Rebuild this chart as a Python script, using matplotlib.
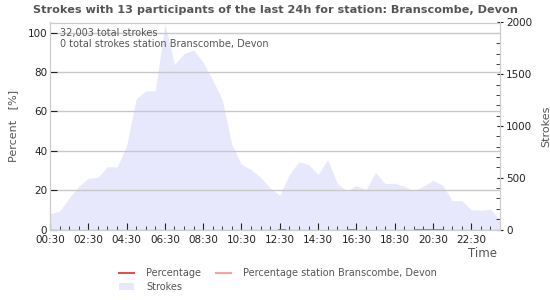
import matplotlib

matplotlib.use("Agg")
import matplotlib.pyplot as plt  # noqa: E402
from matplotlib.lines import Line2D  # noqa: E402
from matplotlib.patches import Patch  # noqa: E402
from matplotlib.ticker import MultipleLocator  # noqa: E402

# half-hour bins, hours since midnight
hours = [0.5 + 0.5 * i for i in range(48)]
strokes = [152, 176, 304, 418, 494, 504, 608, 603, 808, 1264, 1340, 1340,
           1985, 1596, 1700, 1734, 1615, 1444, 1254, 817, 627, 580, 504, 399,
           333, 532, 656, 627, 532, 675, 447, 371, 423, 385, 551, 442,
           447, 418, 371, 418, 475, 428, 280, 280, 190, 186, 195, 95]

# percentage segments (all zero), start/end hours
pct_segments = [(12.4, 12.85), (16.0, 16.5), (19.5, 21.0)]
pct_value = 0

tick_labels = ["00:30", "02:30", "04:30", "06:30", "08:30", "10:30",
               "12:30", "14:30", "16:30", "18:30", "20:30", "22:30"]
tick_hours = [0.5 + 2 * i for i in range(12)]

title = "Strokes with 13 participants of the last 24h for station: Branscombe, Devon"
info = "32,003 total strokes\n0 total strokes station Branscombe, Devon"

FILL = "#e8e8fc"
RED = "#e05050"
PINK = "#ffa0a0"
GRID = "#c8c8c8"
TXT = "#555555"

fig = plt.figure(figsize=(5.5, 3.0), dpi=100)
ax = fig.add_axes([50 / 550, 1 - 229.5 / 300, 450 / 550, (229.5 - 22.5) / 300])
ax2 = ax.twinx()
ax.set_zorder(ax2.get_zorder() + 1)
ax.patch.set_visible(False)

ax2.fill_between(hours, strokes, 0, color=FILL, linewidth=0)
ax2.set_ylim(0, 2000)
ax2.yaxis.set_major_locator(MultipleLocator(500))
ax2.yaxis.set_minor_locator(MultipleLocator(100))
ax2.tick_params(axis="y", which="major", direction="inout", length=5, labelsize=7.5,
                colors="#222222", pad=2)
ax2.tick_params(axis="y", which="minor", direction="in", length=3, color="#222222")
ax2.set_ylabel("Strokes", color=TXT, fontsize=8, labelpad=6)

ax.set_xlim(0.5, 24.0)
ax.set_ylim(0, 105.2)
ax.set_yticks([0, 20, 40, 60, 80, 100])
ax.yaxis.grid(True, color=GRID, linewidth=1)
ax.set_axisbelow(True)
ax.set_xticks(tick_hours)
ax.set_xticklabels(tick_labels)
ax.xaxis.set_minor_locator(MultipleLocator(0.5))
ax.tick_params(axis="x", which="major", direction="in", length=5, labelsize=7.5,
               colors="#222222", pad=4)
ax.tick_params(axis="x", which="minor", direction="in", length=3, color="#222222")
ax.tick_params(axis="y", direction="in", length=5, labelsize=7.5, colors="#222222", pad=2)
ax.set_ylabel("Percent   [%]", color=TXT, fontsize=8, labelpad=7)
ax.set_xlabel("Time", color=TXT, fontsize=8.5, labelpad=1)
ax.xaxis.set_label_coords(0.96, -0.085)

for a in (ax, ax2):
    for s in a.spines.values():
        s.set_color("#cccccc")

for x0, x1 in pct_segments:
    ax.plot([x0, x1], [pct_value, pct_value], color=RED, linewidth=1.2,
            solid_capstyle="butt", clip_on=False)

ax.text(0.023, 0.975, info, transform=ax.transAxes, ha="left", va="top",
        fontsize=7, color=TXT, linespacing=1.15)

fig.text(0.5, 1 - 10 / 300, title, ha="center", va="center", fontsize=8.1,
         fontweight="bold", color=TXT)

handles = [Line2D([], [], color=RED, linewidth=1.5),
           Patch(facecolor=FILL, edgecolor="none"),
           Line2D([], [], color=PINK, linewidth=1.5)]
labels = ["Percentage", "Strokes", "Percentage station Branscombe, Devon"]
leg = fig.legend(handles, labels, ncol=2, loc="center left",
                 bbox_to_anchor=(110 / 550, 1 - 280 / 300), frameon=False,
                 fontsize=7, handlelength=1.6, handletextpad=1.2,
                 columnspacing=1.5, labelspacing=0.35, labelcolor=TXT)

fig.savefig("out.png", dpi=100)
